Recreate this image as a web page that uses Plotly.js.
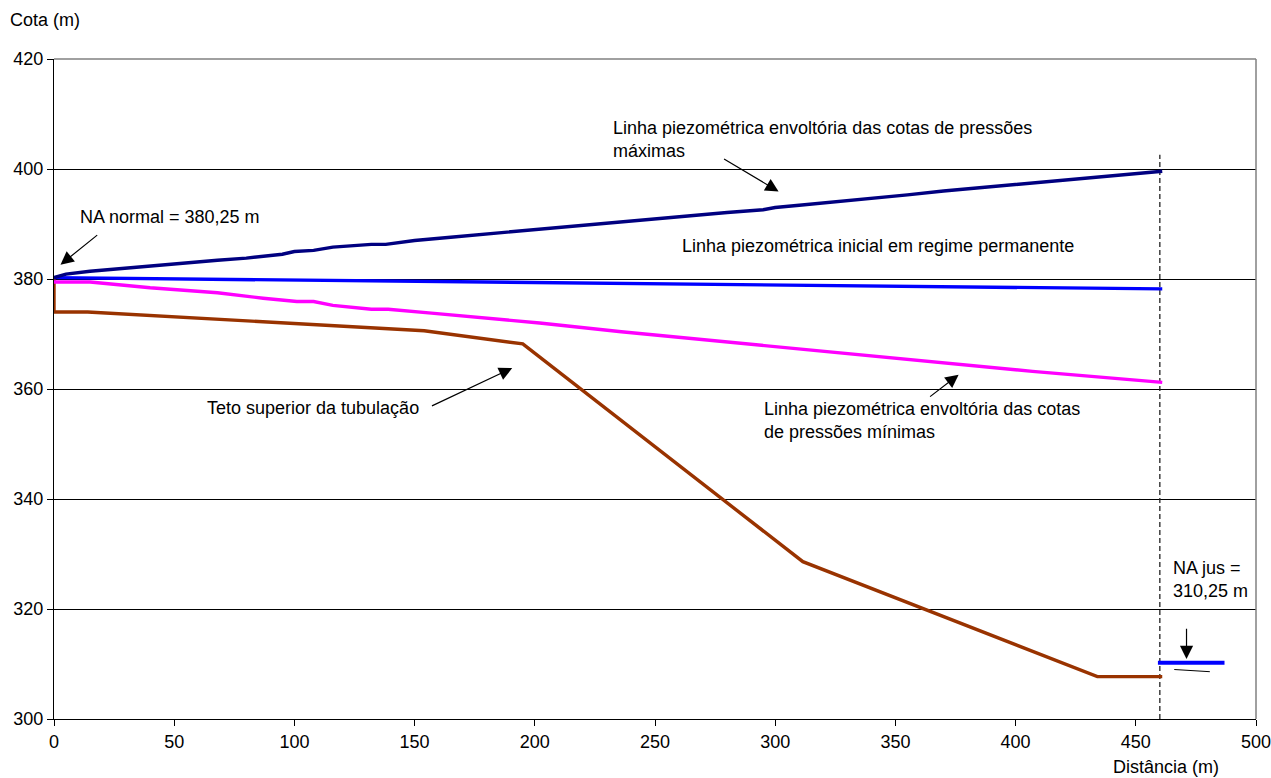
<!DOCTYPE html>
<html>
<head>
<meta charset="utf-8">
<script src="https://cdn.plot.ly/plotly-3.0.1.min.js"></script>
<style>html,body{margin:0;padding:0;background:#fff;}#chart{width:1271px;height:778px;}</style>
</head>
<body>
<div id="chart"></div>
<script>
// ---- Data ----
const maxX = [0, 5, 15, 25, 40, 55, 68, 80, 95, 100, 108, 116, 125, 132, 138, 150, 165, 180, 200, 215, 228, 240, 250, 265, 280, 295, 300, 310, 325, 340, 355, 370, 385, 400, 415, 430, 445, 461];
const maxY = [380.25, 380.9, 381.4, 381.8, 382.4, 382.9, 383.4, 383.8, 384.5, 385.0, 385.2, 385.8, 386.1, 386.3, 386.3, 387.0, 387.6, 388.2, 388.9, 389.5, 390.0, 390.5, 390.9, 391.5, 392.1, 392.6, 393.0, 393.4, 394.0, 394.6, 395.3, 396.0, 396.6, 397.3, 397.9, 398.5, 399.0, 399.6];

const iniX = [0, 100, 200, 300, 400, 461];
const iniY = [380.25, 379.8, 379.35, 378.95, 378.5, 378.2];

const minX = [0, 15, 40, 68, 87, 101, 108, 116, 132, 139, 157, 180, 202, 236, 298, 356, 407, 461];
const minY = [379.45, 379.45, 378.4, 377.5, 376.5, 375.9, 375.9, 375.2, 374.5, 374.5, 373.8, 372.9, 372.0, 370.4, 367.75, 365.3, 363.2, 361.2];

const tetoX = [0, 0, 14, 154, 195, 311.5, 434, 461];
const tetoY = [380.25, 374.0, 374.0, 370.6, 368.2, 328.6, 307.7, 307.7];

const markerX = [460, 460];           // dashed end-of-pipe line
const markerY = [300, 402.6];
const naJusX = [459.2, 486.9];        // downstream water level
const naJusY = [310.25, 310.25];
const naJusSubX = [466, 480.8];
const naJusSubY = [309.0, 308.6];

const xTicks = [0, 50, 100, 150, 200, 250, 300, 350, 400, 450, 500];
const yTicks = [300, 320, 340, 360, 380, 400, 420];

const FONT = 'Liberation Sans, Arial, sans-serif';
const FS = 18;

const traces = [
  {x: markerX, y: markerY, mode: 'lines', line: {color: '#222222', width: 1.3, dash: '5px,3px'}, hoverinfo: 'skip'},
  {x: tetoX, y: tetoY, mode: 'lines', line: {color: '#993300', width: 3.4}, hoverinfo: 'skip'},
  {x: minX, y: minY, mode: 'lines', line: {color: '#FF00FF', width: 3.4}, hoverinfo: 'skip'},
  {x: iniX, y: iniY, mode: 'lines', line: {color: '#0000FF', width: 3.4}, hoverinfo: 'skip'},
  {x: maxX, y: maxY, mode: 'lines', line: {color: '#000080', width: 3.4}, hoverinfo: 'skip'},
  {x: naJusX, y: naJusY, mode: 'lines', line: {color: '#0000FF', width: 4}, hoverinfo: 'skip'},
  {x: naJusSubX, y: naJusSubY, mode: 'lines', line: {color: '#000000', width: 1}, hoverinfo: 'skip'}
];

function txt(x, y, text) {
  return {xref: 'x', yref: 'y', x: x, y: y, text: text, showarrow: false,
          xanchor: 'left', yanchor: 'middle', align: 'left',
          font: {family: FONT, size: FS, color: '#000'}};
}
function arrow(x, y, ax, ay) {
  return {xref: 'x', yref: 'y', axref: 'x', ayref: 'y', x: x, y: y, ax: ax, ay: ay,
          text: '', showarrow: true, arrowhead: 2, arrowsize: 2.2, arrowwidth: 1.2,
          arrowcolor: '#000', standoff: 0, startstandoff: 0};
}

const annotations = [
  txt(231.5, 405.3, 'Linha piezométrica envoltória das cotas de pressões<br>máximas'),
  txt(9.8, 391.2, 'NA normal = 380,25 m'),
  txt(260.6, 386.0, 'Linha piezométrica inicial em regime permanente'),
  txt(63.0, 356.6, 'Teto superior da tubulação'),
  txt(294.5, 354.3, 'Linha piezométrica envoltória das cotas<br>de pressões mínimas'),
  txt(464.5, 325.3, 'NA jus =<br>310,25 m'),
  arrow(2.7, 382.6, 18.6, 388.2),
  arrow(301.4, 395.9, 278.1, 402.0),
  arrow(190.6, 363.8, 156.6, 356.8),
  arrow(376.3, 362.6, 363.8, 358.4),
  arrow(471.1, 310.9, 471.1, 316.7),
  {xref: 'paper', yref: 'paper', x: -0.038, y: 1.0, yshift: 39, text: 'Cota (m)', showarrow: false,
   xanchor: 'left', yanchor: 'middle', font: {family: FONT, size: FS, color: '#000'}},
  {xref: 'paper', yref: 'paper', x: 0.879, y: 0, yshift: -48, text: 'Distância (m)', showarrow: false,
   xanchor: 'left', yanchor: 'middle', font: {family: FONT, size: FS, color: '#000'}}
];

const layout = {
  width: 1271, height: 778,
  margin: {l: 54, r: 15, t: 59, b: 59},
  paper_bgcolor: '#fff', plot_bgcolor: '#fff',
  showlegend: false,
  font: {family: FONT, size: FS, color: '#000'},
  xaxis: {
    range: [0, 500], tickvals: xTicks, ticktext: xTicks.map(String),
    showgrid: false, zeroline: false, showline: true, linecolor: '#000', linewidth: 1,
    ticks: 'outside', ticklen: 6, tickcolor: '#000', ticklabeloverflow: 'allow',
    tickfont: {family: FONT, size: FS, color: '#000'}
  },
  yaxis: {
    range: [300, 420], tickvals: yTicks, ticktext: yTicks.map(String),
    showgrid: true, gridcolor: '#000', gridwidth: 1, zeroline: false,
    showline: true, linecolor: '#000', linewidth: 1,
    ticks: 'outside', ticklen: 6, tickcolor: '#000', tickfont: {family: FONT, size: FS, color: '#000'}
  },
  shapes: [
    {type: 'line', xref: 'paper', yref: 'paper', x0: 0, x1: 1, y0: 1, y1: 1, line: {color: '#808080', width: 1.5}, layer: 'above'},
    {type: 'line', xref: 'paper', yref: 'paper', x0: 1, x1: 1, y0: 0, y1: 1, line: {color: '#808080', width: 1.5}, layer: 'above'}
  ],
  annotations: annotations
};

Plotly.newPlot('chart', traces, layout, {staticPlot: true, displayModeBar: false});
</script>
</body>
</html>
